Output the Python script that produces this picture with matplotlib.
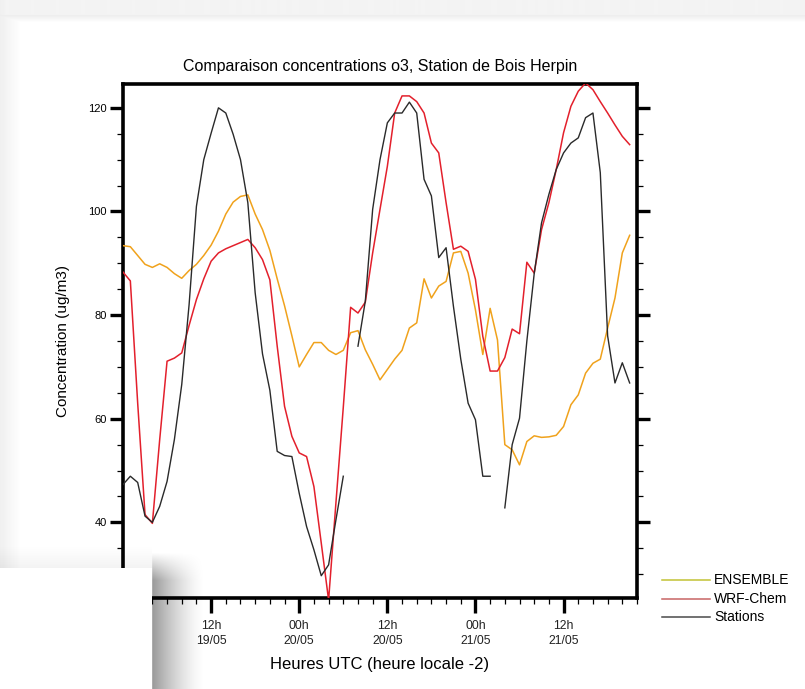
import numpy as np
import matplotlib.pyplot as plt
from matplotlib.ticker import FixedLocator, MultipleLocator

plt.rcParams['font.family'] = ['Liberation Sans', 'DejaVu Sans']

# ---------------- data (hourly, from 00h 19/05 UTC) ----------------
hours = np.arange(70)
ensemble = [93.4, 93.2, 91.5, 89.8, 89.2, 89.9, 89.2, 88.0, 87.1, 88.6,
            89.8, 91.5, 93.5, 96.2, 99.5, 101.8, 102.9, 103.2, 99.5, 96.5,
            92.5, 87.0, 81.8, 76.0, 70.0, 72.4, 74.7, 74.7, 73.2, 72.4,
            73.2, 76.6, 77.0, 73.3, 70.5, 67.5, 69.5, 71.5, 73.2, 77.5,
            78.5, 87.0, 83.3, 85.6, 86.5, 92.0, 92.3, 88.1, 81.0, 72.4,
            81.3, 75.2, 55.0, 54.0, 51.1, 55.6, 56.7, 56.4, 56.5, 56.8,
            58.5, 62.7, 64.6, 68.8, 70.7, 71.5, 77.5, 83.3, 92.0, 95.4]
wrf_chem = [88.3, 86.6, 63.0, 41.5, 39.8, 56.0, 71.1, 71.7, 72.7, 78.0,
            83.0, 87.0, 90.4, 92.0, 92.8, 93.4, 94.0, 94.6, 93.0, 90.7,
            86.8, 74.0, 62.4, 56.6, 53.4, 52.7, 46.9, 36.0, 25.0, 43.8,
            62.2, 81.5, 80.4, 82.5, 92.0, 100.4, 108.7, 119.0, 122.3, 122.3,
            121.2, 119.0, 113.2, 111.3, 101.7, 92.7, 93.3, 92.3, 86.9, 75.9,
            69.2, 69.2, 71.8, 77.3, 76.4, 90.2, 88.1, 96.5, 101.7, 108.1,
            115.2, 120.3, 123.2, 124.8, 123.5, 121.2, 119.0, 116.7, 114.5, 112.9]
stations = [47.3, 48.9, 47.7, 41.2, 40.0, 43.1, 47.9, 56.0, 66.6, 82.0,
            101.0, 110.0, 115.1, 120.0, 119.0, 114.9, 110.0, 101.7, 84.3, 72.5,
            65.5, 53.7, 52.9, 52.7, 45.6, 39.2, 34.7, 29.7, 31.8, 40.5,
            48.9, np.nan, 74.0, 82.7, 100.4, 110.0, 117.1, 119.0, 119.0, 121.1,
            119.0, 106.2, 103.0, 91.1, 93.0, 81.7, 71.5, 63.0, 59.8, 48.9,
            48.9, np.nan, 42.8, 55.0, 60.1, 75.0, 88.0, 97.8, 103.3, 108.1,
            111.3, 113.2, 114.2, 118.1, 119.0, 107.5, 76.0, 66.9, 70.8, 66.9]
series_names = ["ENSEMBLE", "WRF-Chem", "Stations"]
tick_hours = [0, 12, 24, 36, 48, 60]
tick_labels = ["00h\n19/05", "12h\n19/05", "00h\n20/05", "12h\n20/05",
               "00h\n21/05", "12h\n21/05"]
y_ticks = [40, 60, 80, 100, 120]

W, H = 805, 689
fig = plt.figure(figsize=(W / 100, H / 100), dpi=100)
fig.patch.set_facecolor('white')

# ---------------- screenshot-like page background ----------------
bg = fig.add_axes([0, 0, 1, 1], zorder=-10)
rows = np.arange(H)[:, None].astype(float)
cols = np.arange(W)[None, :].astype(float)
img = np.ones((H, W))
img = np.where(rows < 15, 0.955, img)
img = np.where((rows >= 15) & (rows < 22), 0.93 + (rows - 15) / 7 * 0.07, img)
left_shade = np.clip(0.94 + cols / 20 * 0.06, 0, 1)
img = np.minimum(img, np.where(cols < 20, left_shade, 1.0))
bg.imshow(img, cmap='gray', vmin=0, vmax=1, aspect='auto',
          extent=(0, W, H, 0), interpolation='bilinear')
bg.set_xlim(0, W)
bg.set_ylim(H, 0)
bg.axis('off')

# ---------------- main chart ----------------
L, R, T, B = 123, 637, 84, 598
ax = fig.add_axes([L / W, 1 - B / H, (R - L) / W, (B - T) / H])
ax.plot(hours, ensemble, color='#f0a21c', lw=1.1, zorder=3)
ax.plot(hours, wrf_chem, color='#e3202c', lw=1.1, zorder=4)
ax.plot(hours, stations, color='#2a2a2a', lw=1.0, zorder=5)
ax.set_xlim(0, 70)
ax.set_ylim(25.4, 124.6)

ax.xaxis.set_major_locator(FixedLocator(tick_hours))
ax.set_xticklabels(tick_labels)
ax.xaxis.set_minor_locator(MultipleLocator(2))
ax.set_yticks(y_ticks)
ax.yaxis.set_minor_locator(MultipleLocator(5))

for s in ax.spines.values():
    s.set_linewidth(2.6)
ax.tick_params(axis='both', which='major', direction='out', length=9.5,
               width=2.4, labelsize=8, colors='black', pad=2)
ax.tick_params(axis='both', which='minor', direction='out', length=4,
               width=0.9)
ax.tick_params(axis='y', which='both', left=True, right=True)
ax.tick_params(axis='x', which='both', top=False, bottom=True)
ax.tick_params(axis='x', which='major', length=11, labelsize=8.8, pad=5,
               labelcolor='#222222')
for lbl in ax.get_xticklabels():
    lbl.set_linespacing(1.3)

ax.set_title("Comparaison concentrations o3, Station de Bois Herpin",
             fontsize=11.5, pad=9)
ax.set_ylabel("Concentration (ug/m3)", fontsize=11, labelpad=13)
ax.set_xlabel("Heures UTC (heure locale -2)", fontsize=12, labelpad=7)

# ---------------- legend (outside, right) ----------------
leg_colors = ['#c2c234', '#c86464', '#4a4a4a']
leg_y = [580, 599, 617]
for name, c, yy in zip(series_names, leg_colors, leg_y):
    fig.add_artist(plt.Line2D([662 / W, 710 / W], [1 - yy / H, 1 - yy / H],
                              color=c, lw=1.1, transform=fig.transFigure))
    fig.text(714 / W, 1 - yy / H, name, fontsize=10, va='center', ha='left')

# ---------------- overlapping white box with shadow ----------------
ov = fig.add_axes([0, 0, 1, 1], zorder=20)
ov.set_xlim(0, W)
ov.set_ylim(H, 0)
ov.axis('off')
ov.patch.set_alpha(0)
shadow = np.zeros((H, W, 4))
yy = np.arange(H)
vert = np.clip((yy - 552) / 28.0, 0, 1)
for x0 in range(152, 205):
    a = 0.40 * (1 - (x0 - 152) / 53) ** 1.5
    shadow[:, x0, 3] = a * vert
for y0 in range(545, 568):
    a = 0.05 * ((y0 - 545) / 23)
    shadow[y0, 0:152, 3] = np.maximum(shadow[y0, 0:152, 3], a)
ov.imshow(shadow, extent=(0, W, H, 0), aspect='auto', interpolation='bilinear')
ov.add_patch(plt.Rectangle((0, 568), 152, H - 568, facecolor='white',
                           edgecolor='none'))

fig.savefig('out.png', dpi=100)
